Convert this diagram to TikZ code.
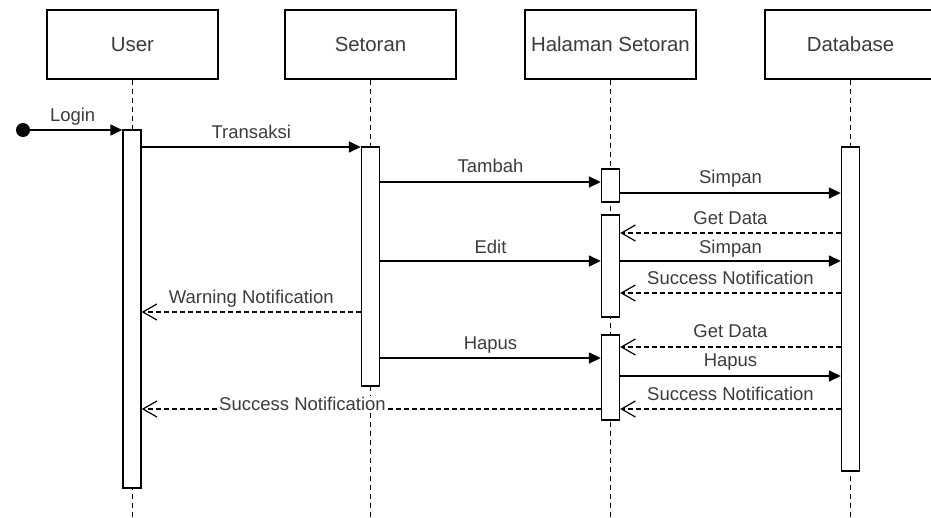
\documentclass[tikz,border=0pt]{standalone}
\usepackage{fontspec}
\setmainfont{Liberation Sans}
\usetikzlibrary{arrows.meta}
\definecolor{txtc}{RGB}{60,60,60}
\tikzset{
  actor/.style={draw, line width=1.4pt, fill=white, minimum width=171pt, minimum height=69pt,
    inner sep=0pt, text height=14.6pt, text depth=0pt, text=txtc, font=\fontsize{20.4}{24}\selectfont},
  bar/.style={draw, line width=1.4pt, fill=white, minimum width=18pt, inner sep=0pt},
  life/.style={line width=1.2pt, dash pattern=on 5pt off 4pt},
  msg/.style={line width=1.5pt, -{Triangle[length=12pt,width=11pt]}},
  ret/.style={line width=1.2pt, dash pattern=on 4.5pt off 3.5pt, -{Straight Barb[length=14pt,width=16pt,line width=1.2pt]}},
  lbl/.style={inner sep=0pt, text height=13.2pt, text depth=0pt, text=txtc, font=\fontsize{18.5}{22}\selectfont},
}
\begin{document}
\begin{tikzpicture}[x=1pt,y=-1pt]
\useasboundingbox (0,0) rectangle (931,517);
% participants
\node[actor] (u) at (132.5,44.5) {User};
\node[actor] (s) at (370.5,44.5) {Setoran};
\node[actor] (h) at (610.5,44.5) {Halaman Setoran};
\node[actor] (d) at (850.5,44.5) {Database};
% lifeline ends
\coordinate (ue) at (132.5,517);
\coordinate (se) at (370.5,517);
\coordinate (he) at (610.5,517);
\coordinate (de) at (850.5,517);
\draw[life] (u.south) -- (ue);
\draw[life] (s.south) -- (se);
\draw[life] (h.south) -- (he);
\draw[life] (d.south) -- (de);
% activation bars
\node[bar, minimum height=358pt] (ub) at (132,309) {};
\node[bar, minimum height=239pt] (sb) at (370.5,266.5) {};
\node[bar, minimum height=33pt] (hb1) at (610.5,185.5) {};
\node[bar, minimum height=102pt] (hb2) at (610.5,266) {};
\node[bar, minimum height=85pt] (hb3) at (610.5,377.5) {};
\node[bar, minimum height=324pt] (db) at (850.5,309) {};
% message rows
\coordinate (y2) at (0,147);
\coordinate (y3) at (0,182);
\coordinate (y4) at (0,193);
\coordinate (y5) at (0,233);
\coordinate (y6) at (0,261);
\coordinate (y7) at (0,293);
\coordinate (y8) at (0,312);
\coordinate (y9) at (0,347);
\coordinate (y10) at (0,358);
\coordinate (y11) at (0,376);
\coordinate (y12) at (0,409);
% start
\node[circle, fill=black, inner sep=0pt, minimum size=14pt] (start) at (23,130) {};
\draw[msg] (start.center) -- node[lbl, midway, yshift=15pt] (l1) {Login} (ub.west |- start);
\draw[msg] (ub.east |- y2) -- node[lbl, midway, yshift=15pt] (l2) {Transaksi} (sb.west |- y2);
\draw[msg] (sb.east |- y3) -- node[lbl, midway, yshift=16.5pt] (l3) {Tambah} (hb1.west |- y3);
\draw[msg] (hb1.east |- y4) -- node[lbl, midway, yshift=16pt] (l4) {Simpan} (db.west |- y4);
\draw[ret] (db.west |- y5) -- node[lbl, midway, yshift=15pt] (l5) {Get Data} (hb2.east |- y5);
\draw[msg] (sb.east |- y6) -- node[lbl, midway, yshift=14pt] (l6) {Edit} (hb2.west |- y6);
\draw[msg] (hb2.east |- y6) -- node[lbl, midway, yshift=14pt] (l7) {Simpan} (db.west |- y6);
\draw[ret] (db.west |- y7) -- node[lbl, midway, yshift=15pt] (l8) {Success Notification} (hb2.east |- y7);
\draw[ret] (sb.west |- y8) -- node[lbl, midway, yshift=15pt] (l9) {Warning Notification} (ub.east |- y8);
\draw[ret] (db.west |- y9) -- node[lbl, midway, yshift=16pt] (l10) {Get Data} (hb3.east |- y9);
\draw[msg] (sb.east |- y10) -- node[lbl, midway, yshift=15pt] (l11) {Hapus} (hb3.west |- y10);
\draw[msg] (hb3.east |- y11) -- node[lbl, midway, yshift=16pt] (l12) {Hapus} (db.west |- y11);
\draw[ret] (db.west |- y12) -- node[lbl, midway, yshift=15pt] (l13) {Success Notification} (hb3.east |- y12);
\draw[ret] (hb3.west |- y12) -- (ub.east |- y12);
\node[lbl, fill=white, inner xsep=1pt, inner ysep=1pt] (l14) at (302.5,404) {Success Notification};
\end{tikzpicture}
\end{document}
